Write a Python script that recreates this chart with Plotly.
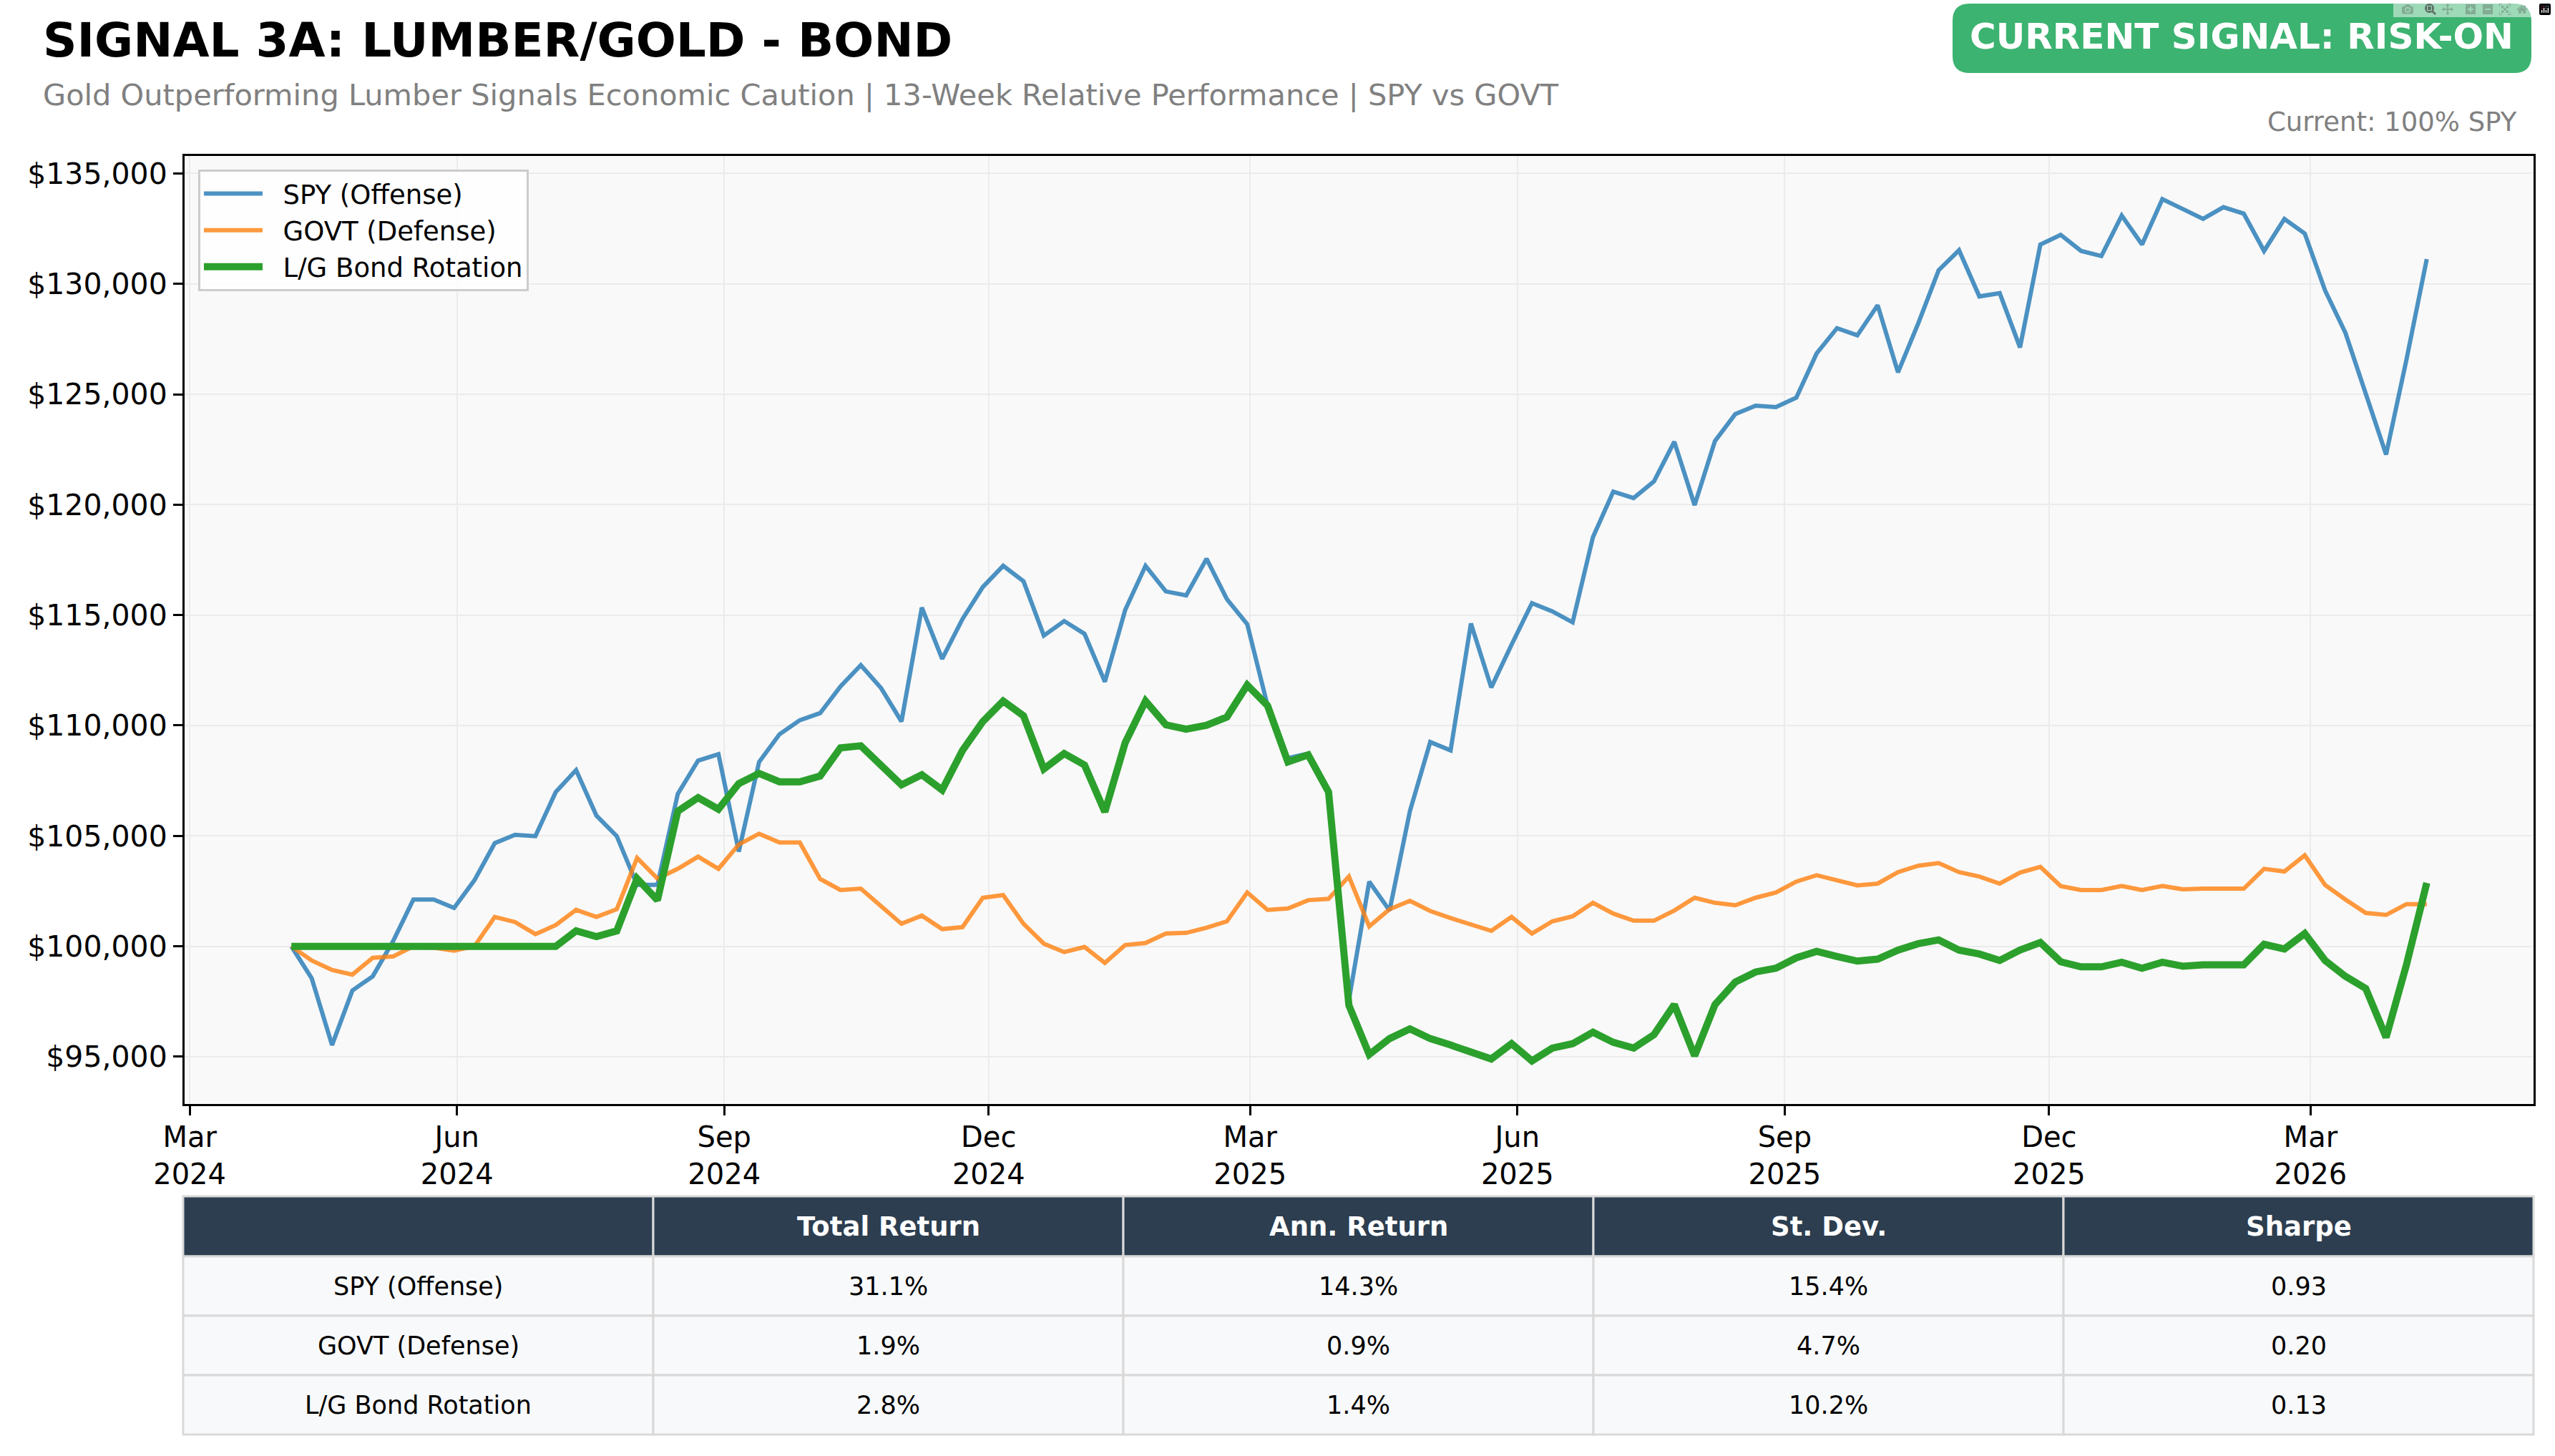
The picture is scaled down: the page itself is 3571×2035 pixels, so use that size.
import pandas as pd
import plotly.graph_objects as go

# growth of $100,000, weekly (Fridays) from 2024-04-05
spy_offense = [
    100000, 98550, 95530, 98000, 98640, 100230, 102120, 102120, 101740, 102990,
    104670, 105050, 104990, 106990, 107980, 105920, 104990, 102780, 102780, 106900,
    108410, 108700, 104290, 108350, 109600, 110240, 110560, 111770, 112730, 111690,
    110180, 115340, 113020, 114820, 116270, 117230, 116530, 114070, 114730, 114150,
    111980, 115230, 117230, 116070, 115890, 117550, 115720, 114590, 110900, 108520,
    108730, 106990, 97560, 102930, 101620, 106120, 109250, 108870, 114620, 111720,
    113660, 115540, 115170, 114670, 118530, 120590, 120300, 121050, 122850, 119980,
    122880, 124100, 124480, 124420, 124850, 126850, 127990, 127670, 129030, 125990,
    128220, 130620, 131520, 129430, 129580, 127120, 131780, 132220, 131490, 131260,
    133090, 131780, 133840, 133410, 132940, 133470, 133180, 131490, 132940, 132280,
    129700, 127780, 125030, 122270, 126560, 131120,
]
govt_defense = [
    100000, 99360, 98930, 98720, 99480, 99540, 100000, 99940, 99800, 100000,
    101330, 101100, 100550, 100960, 101650, 101330, 101680, 104000, 103070, 103510,
    104060, 103510, 104610, 105100, 104700, 104700, 103050, 102550, 102610, 101830,
    101020, 101390, 100780, 100870, 102200, 102320, 101020, 100120, 99740, 99970,
    99250, 100060, 100150, 100580, 100610, 100840, 101130, 102440, 101650, 101710,
    102090, 102150, 103160, 100900, 101680, 102060, 101600, 101280, 100990, 100700,
    101330, 100580, 101130, 101360, 101970, 101480, 101160, 101160, 101620, 102200,
    101970, 101860, 102200, 102440, 102930, 103220, 102990, 102760, 102840, 103360,
    103650, 103770, 103360, 103160, 102840, 103340, 103600, 102730, 102550, 102550,
    102730, 102550, 102730, 102580, 102610, 102610, 102610, 103510, 103390, 104120,
    102780, 102120, 101510, 101420, 101910, 101910,
]
lg_rotation = [
    100000, 100000, 100000, 100000, 100000, 100000, 100000, 100000, 100000, 100000,
    100000, 100000, 100000, 100000, 100700, 100440, 100700, 103070, 102090, 106120,
    106730, 106210, 107370, 107830, 107450, 107450, 107710, 108990, 109080, 108240,
    107310, 107770, 107080, 108870, 110180, 111110, 110440, 108030, 108730, 108210,
    106090, 109220, 111110, 110030, 109830, 110010, 110380, 111830, 110900, 108350,
    108670, 106990, 97330, 95100, 95820, 96260, 95820, 95530, 95240, 94900,
    95590, 94810, 95390, 95590, 96110, 95650, 95390, 96000, 97360, 95040,
    97360, 98380, 98840, 99010, 99480, 99770, 99540, 99330, 99420, 99830,
    100120, 100290, 99830, 99650, 99360, 99830, 100170, 99300, 99070, 99070,
    99280, 99010, 99280, 99100, 99160, 99160, 99160, 100090, 99880, 100580,
    99360, 98640, 98090, 95880, 99160, 102870,
]

stat_names = ["SPY (Offense)", "GOVT (Defense)", "L/G Bond Rotation"]
stat_header = ["", "Total Return", "Ann. Return", "St. Dev.", "Sharpe"]
total_return = ["31.1%", "1.9%", "2.8%"]
ann_return = ["14.3%", "0.9%", "1.4%"]
st_dev = ["15.4%", "4.7%", "10.2%"]
sharpe = ["0.93", "0.20", "0.13"]

tick_dates = ["2024-03-01", "2024-06-01", "2024-09-01", "2024-12-01", "2025-03-01",
              "2025-06-01", "2025-09-01", "2025-12-01", "2026-03-01"]
tick_labels = ["Mar<br>2024", "Jun<br>2024", "Sep<br>2024", "Dec<br>2024", "Mar<br>2025",
               "Jun<br>2025", "Sep<br>2025", "Dec<br>2025", "Mar<br>2026"]
y_ticks = [95000, 100000, 105000, 110000, 115000, 120000, 125000, 130000, 135000]

W, H = 3571, 2035
FONT = "DejaVu Sans"
GAP = "\u00a0\u00a0"  # a bit more room between legend line and label


def px(x):
    return x / W


def py(y):
    return 1 - y / H


dates = pd.date_range("2024-04-05", periods=len(spy_offense), freq="7D")

fig = go.Figure()
fig.add_trace(go.Scatter(x=dates, y=spy_offense, mode="lines", name=GAP + "SPY (Offense)",
                         line=dict(color="rgba(31,119,180,0.8)", width=6)))
fig.add_trace(go.Scatter(x=dates, y=govt_defense, mode="lines", name=GAP + "GOVT (Defense)",
                         line=dict(color="rgba(255,127,14,0.8)", width=6)))
fig.add_trace(go.Scatter(x=dates, y=lg_rotation, mode="lines", name=GAP + "L/G Bond Rotation",
                         line=dict(color="#2ca02c", width=10)))

# stats table: header row + one row per strategy
tbl_left, tbl_right = 256, 3541
row_edges = [1672, 1756, 1839, 1922, 2005]
col_w = (tbl_right - tbl_left) / len(stat_header)
table_rows = [stat_header] + [
    [stat_names[i], total_return[i], ann_return[i], st_dev[i], sharpe[i]]
    for i in range(len(stat_names))
]
for r, row in enumerate(table_rows):
    ya, yb = row_edges[r], row_edges[r + 1]
    for c, val in enumerate(row):
        xa = tbl_left + c * col_w
        fig.add_shape(type="rect", xref="paper", yref="paper",
                      x0=px(xa), x1=px(xa + col_w), y0=py(yb), y1=py(ya),
                      fillcolor="#2c3e50" if r == 0 else "#f8f9fa",
                      line=dict(color="#d9d9d9", width=3))
        if val:
            fig.add_annotation(text="<b>%s</b>" % val if r == 0 else val,
                               x=px(xa + col_w / 2), y=py((ya + yb) / 2),
                               xref="paper", yref="paper", xanchor="center", yanchor="middle",
                               showarrow=False,
                               font=dict(family=FONT, size=37 if r == 0 else 35,
                                         color="white" if r == 0 else "black"))

# rounded badge, top right
x0, x1, y0, y1, rad = 2729, 3538, 5, 102, 24
badge = ("M {a},{b} L {c},{b} Q {x1},{b} {x1},{d} L {x1},{e} Q {x1},{f} {c},{f} "
         "L {a},{f} Q {x0},{f} {x0},{e} L {x0},{d} Q {x0},{b} {a},{b} Z").format(
    a=px(x0 + rad), c=px(x1 - rad), x0=px(x0), x1=px(x1),
    b=py(y0), d=py(y0 + rad), e=py(y1 - rad), f=py(y1))
fig.add_shape(type="path", path=badge, xref="paper", yref="paper",
              fillcolor="#3cb371", line=dict(width=0))

fig.add_annotation(text="<b>SIGNAL 3A: LUMBER/GOLD - BOND</b>", x=px(58), y=py(57),
                   xref="paper", yref="paper", xanchor="left", yanchor="middle", showarrow=False,
                   font=dict(family=FONT, size=66, color="black"))
fig.add_annotation(text="Gold Outperforming Lumber Signals Economic Caution | 13-Week Relative Performance | SPY vs GOVT",
                   x=px(58), y=py(132), xref="paper", yref="paper", xanchor="left", yanchor="middle",
                   showarrow=False, font=dict(family=FONT, size=41.5, color="#808080"))
fig.add_annotation(text="<b>CURRENT SIGNAL: RISK-ON</b>", x=px(3133), y=py(51),
                   xref="paper", yref="paper", xanchor="center", yanchor="middle", showarrow=False,
                   font=dict(family=FONT, size=50, color="white"))
fig.add_annotation(text="Current: 100% SPY", x=px(3520), y=py(170),
                   xref="paper", yref="paper", xanchor="right", yanchor="middle", showarrow=False,
                   font=dict(family=FONT, size=37, color="#808080"))

fig.update_layout(
    width=W, height=H, autosize=False,
    margin=dict(l=0, r=0, t=0, b=0, autoexpand=False),
    paper_bgcolor="white", plot_bgcolor="#f9f9f9",
    font=dict(family=FONT, size=40, color="black"),
    showlegend=True,
    legend=dict(x=px(277), y=py(237), xanchor="left", yanchor="top", itemwidth=82,
                bgcolor="rgba(255,255,255,0.85)", bordercolor="#cccccc", borderwidth=3,
                font=dict(family=FONT, size=37, color="black")),
    xaxis=dict(domain=[px(258), px(3541)], range=["2024-02-28 06:00", "2026-05-16 18:00"],
               tickvals=tick_dates, ticktext=tick_labels, tickfont=dict(size=40),
               automargin=False, ticklabelstandoff=-4,
               showline=True, linecolor="black", linewidth=3, mirror=True,
               ticks="outside", ticklen=13, tickwidth=3, tickcolor="black",
               showgrid=True, gridcolor="#ebebeb", gridwidth=2, zeroline=False),
    yaxis=dict(domain=[py(1543), py(218)], range=[92860, 135790],
               tickvals=y_ticks, ticktext=["${:,}".format(v) for v in y_ticks],
               tickfont=dict(size=41), automargin=False,
               showline=True, linecolor="black", linewidth=3, mirror=True,
               ticks="outside", ticklen=13, tickwidth=3, tickcolor="black",
               showgrid=True, gridcolor="#ebebeb", gridwidth=2, zeroline=False),
)

fig.write_html("out.html", post_script="document.body.style.margin='0';")
